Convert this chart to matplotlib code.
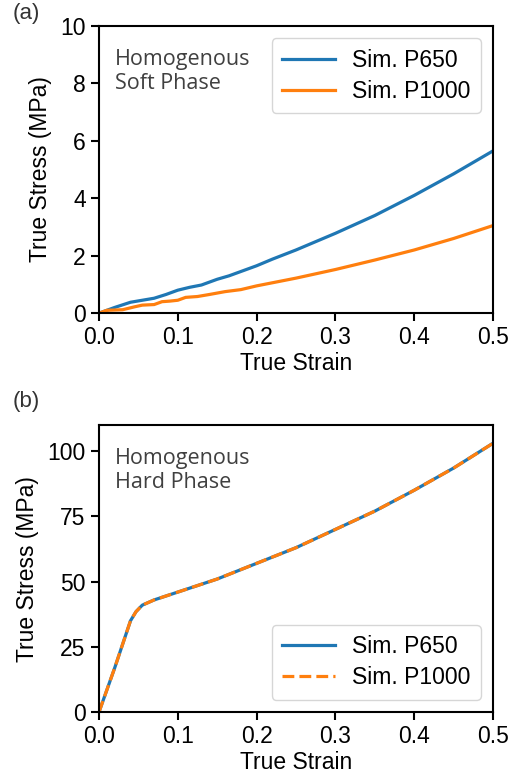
import matplotlib
matplotlib.use("Agg")
import matplotlib.pyplot as plt

# panel (a) soft phase
strain_a_p650 = [0, 0.02, 0.04, 0.055, 0.07, 0.085, 0.1, 0.115, 0.13, 0.15, 0.165, 0.18, 0.2, 0.22, 0.25, 0.3, 0.35, 0.4, 0.45, 0.5]
stress_a_p650 = [0, 0.2, 0.38, 0.45, 0.52, 0.65, 0.8, 0.9, 0.98, 1.18, 1.3, 1.45, 1.65, 1.88, 2.2, 2.78, 3.4, 4.1, 4.85, 5.65]
strain_a_p1000 = [0, 0.01, 0.03, 0.045, 0.055, 0.07, 0.08, 0.09, 0.1, 0.11, 0.125, 0.14, 0.16, 0.18, 0.2, 0.25, 0.3, 0.35, 0.4, 0.45, 0.5]
stress_a_p1000 = [0, 0.1, 0.12, 0.22, 0.28, 0.3, 0.4, 0.42, 0.45, 0.55, 0.58, 0.65, 0.75, 0.82, 0.95, 1.22, 1.52, 1.85, 2.2, 2.6, 3.05]

# panel (b) hard phase (both curves overlap)
strain_b = [0, 0.02, 0.04, 0.047, 0.055, 0.07, 0.1, 0.15, 0.2, 0.25, 0.3, 0.35, 0.4, 0.45, 0.5]
stress_b_p650 = [0, 17, 35, 38.5, 41, 43, 46, 51, 57, 63, 70, 77, 85, 93.5, 103]
stress_b_p1000 = [0, 17, 35, 38.5, 41, 43, 46, 51, 57, 63, 70, 77, 85, 93.5, 103]

labels = ["Sim. P650", "Sim. P1000"]
blue = "#1f77b4"
orange = "#ff7f0e"

plt.rcParams["font.family"] = ["Liberation Sans", "DejaVu Sans"]
plt.rcParams["font.size"] = 16.5

fig = plt.figure(figsize=(5.1, 7.81), dpi=100)
ax1 = fig.add_axes([0.194, 0.599, 0.773, 0.368])
ax2 = fig.add_axes([0.194, 0.088, 0.773, 0.368])


def style(ax):
    for s in ax.spines.values():
        s.set_linewidth(1.5)
    ax.tick_params(direction="out", length=6, width=1.5, labelsize=16.5)
    ax.set_xlim(0, 0.5)
    ax.set_xticks([0, 0.1, 0.2, 0.3, 0.4, 0.5])
    ax.set_xlabel("True Strain", fontsize=16.5, labelpad=2)
    ax.set_ylabel("True Stress (MPa)", fontsize=16.5, labelpad=6)


ax1.plot(strain_a_p650, stress_a_p650, color=blue, lw=2.3, label=labels[0])
ax1.plot(strain_a_p1000, stress_a_p1000, color=orange, lw=2.3, label=labels[1])
style(ax1)
ax1.set_ylim(0, 10)
ax1.set_yticks([0, 2, 4, 6, 8, 10])
ax1.legend(loc="upper right", fontsize=16.5, handlelength=2.3, handletextpad=0.75,
           borderpad=0.45, labelspacing=0.35, borderaxespad=0.55)
ax1.text(0.04, 0.92, "Homogenous\nSoft Phase", transform=ax1.transAxes, va="top", ha="left",
         family="Open Sans", fontsize=15.5, color="#404040", linespacing=1.2)

ax2.plot(strain_b, stress_b_p650, color=blue, lw=2.3, label=labels[0])
ax2.plot(strain_b, stress_b_p1000, color=orange, lw=2.3, ls="--", label=labels[1])
style(ax2)
ax2.set_ylim(0, 110)
ax2.set_yticks([0, 25, 50, 75, 100])
ax2.legend(loc="lower right", fontsize=16.5, handlelength=2.3, handletextpad=0.75,
           borderpad=0.45, labelspacing=0.35, borderaxespad=0.55)
ax2.text(0.04, 0.92, "Homogenous\nHard Phase", transform=ax2.transAxes, va="top", ha="left",
         family="Open Sans", fontsize=15.5, color="#404040", linespacing=1.2)

fig.text(0.025, 0.996, "(a)", fontsize=16, color="#333333", va="top", ha="left")
fig.text(0.025, 0.5, "(b)", fontsize=16, color="#333333", va="top", ha="left")

fig.savefig("out.png", dpi=100)
